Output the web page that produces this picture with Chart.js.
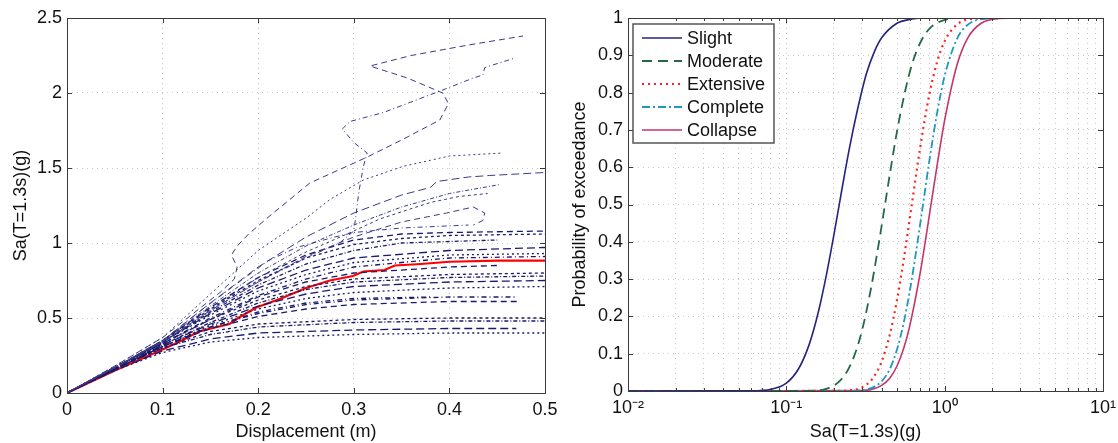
<!DOCTYPE html>
<html>
<head>
<meta charset="utf-8">
<script src="https://cdn.jsdelivr.net/npm/chart.js@4.4.0/dist/chart.umd.min.js"></script>
<style>
  body { margin: 0; background: #fff; overflow: hidden; }
  #wrap { position: relative; width: 1118px; height: 443px; }
  canvas { position: absolute; top: 0; }
</style>
</head>
<body>
<div id="wrap">
  <canvas id="ida" width="559" height="443" style="left:0"></canvas>
  <canvas id="frag" width="559" height="443" style="left:559px"></canvas>
</div>
<script>
// ---- left panel: IDA curves, [displacement (m), Sa (g)] ----
var ida01 = [[0,0],[0.05,0.18],[0.1,0.37],[0.13,0.52],[0.16,0.67],[0.175,0.76],[0.178,0.84],[0.172,0.92],[0.178,0.98],[0.19,1.06],[0.212,1.18],[0.254,1.4],[0.313,1.57],[0.351,1.69],[0.39,1.82],[0.399,1.93],[0.393,2.0],[0.356,2.1],[0.317,2.18],[0.36,2.25],[0.42,2.32],[0.477,2.38]];
var ida02 = [[0,0],[0.05,0.17],[0.1,0.34],[0.15,0.55],[0.2,0.74],[0.25,0.9],[0.285,1.0],[0.3,1.08],[0.302,1.17],[0.305,1.33],[0.31,1.51],[0.314,1.6],[0.3,1.67],[0.288,1.76],[0.296,1.81],[0.331,1.87],[0.393,2.02],[0.425,2.1],[0.435,2.12],[0.437,2.17],[0.467,2.23]];
var ida03 = [[0,0],[0.05,0.18],[0.1,0.37],[0.15,0.66],[0.2,0.95],[0.251,1.17],[0.275,1.29],[0.31,1.42],[0.351,1.51],[0.4,1.58],[0.456,1.6]];
var ida04 = [[0,0],[0.05,0.17],[0.1,0.35],[0.15,0.6],[0.2,0.84],[0.25,1.04],[0.3,1.2],[0.35,1.32],[0.38,1.37],[0.387,1.41],[0.42,1.44],[0.442,1.45],[0.5,1.47]];
var ida05 = [[0,0],[0.05,0.17],[0.1,0.35],[0.15,0.58],[0.2,0.8],[0.25,0.98],[0.3,1.12],[0.35,1.24],[0.4,1.33],[0.453,1.39]];
var ida06 = [[0,0],[0.05,0.17],[0.1,0.34],[0.15,0.56],[0.2,0.77],[0.25,0.94],[0.3,1.08],[0.327,1.16],[0.38,1.27],[0.41,1.31],[0.44,1.33]];
var ida07 = [[0,0],[0.05,0.17],[0.1,0.34],[0.15,0.55],[0.2,0.74],[0.25,0.91],[0.3,1.04],[0.35,1.14],[0.397,1.2],[0.425,1.24],[0.437,1.2],[0.435,1.15],[0.425,1.12]];
var ida08 = [[0,0],[0.05,0.17],[0.1,0.35],[0.14,0.55],[0.18,0.74],[0.21,0.88],[0.24,0.97],[0.28,1.04],[0.3,1.07],[0.35,1.1],[0.42,1.12]];
var ida09 = [[0,0],[0.05,0.15],[0.1,0.27],[0.15,0.34],[0.2,0.37],[0.3,0.39],[0.4,0.4],[0.5,0.4]];
var ida10 = [[0,0],[0.05,0.15],[0.1,0.28],[0.15,0.36],[0.2,0.4],[0.3,0.42],[0.4,0.43],[0.47,0.43]];
var ida11 = [[0,0],[0.05,0.16],[0.1,0.3],[0.15,0.39],[0.2,0.44],[0.3,0.47],[0.4,0.48],[0.5,0.48]];
var ida12 = [[0,0],[0.05,0.16],[0.1,0.3],[0.15,0.41],[0.2,0.46],[0.3,0.49],[0.4,0.5],[0.5,0.5]];
var ida13 = [[0,0],[0.05,0.16],[0.1,0.31],[0.15,0.43],[0.2,0.51],[0.25,0.56],[0.3,0.59],[0.4,0.61],[0.474,0.61]];
var ida14 = [[0,0],[0.05,0.16],[0.1,0.31],[0.15,0.44],[0.2,0.53],[0.25,0.59],[0.3,0.62],[0.4,0.64],[0.47,0.64]];
var ida15 = [[0,0],[0.05,0.16],[0.1,0.31],[0.15,0.45],[0.2,0.56],[0.25,0.63],[0.3,0.67],[0.4,0.7],[0.5,0.71]];
var ida16 = [[0,0],[0.05,0.16],[0.1,0.32],[0.15,0.46],[0.2,0.58],[0.25,0.66],[0.3,0.71],[0.4,0.74],[0.5,0.75]];
var ida17 = [[0,0],[0.05,0.16],[0.1,0.32],[0.15,0.47],[0.2,0.6],[0.25,0.69],[0.3,0.74],[0.4,0.77],[0.5,0.78]];
var ida18 = [[0,0],[0.05,0.17],[0.1,0.33],[0.15,0.49],[0.2,0.62],[0.25,0.71],[0.3,0.76],[0.4,0.79],[0.5,0.8]];
var ida19 = [[0,0],[0.05,0.17],[0.1,0.33],[0.15,0.49],[0.2,0.64],[0.25,0.74],[0.3,0.8],[0.4,0.84],[0.45,0.85]];
var ida20 = [[0,0],[0.05,0.17],[0.1,0.33],[0.15,0.5],[0.2,0.65],[0.25,0.76],[0.3,0.84],[0.4,0.9],[0.5,0.91]];
var ida21 = [[0,0],[0.05,0.17],[0.1,0.34],[0.15,0.52],[0.2,0.68],[0.25,0.79],[0.3,0.87],[0.4,0.92],[0.5,0.93]];
var ida22 = [[0,0],[0.05,0.17],[0.1,0.34],[0.15,0.53],[0.2,0.7],[0.25,0.82],[0.3,0.9],[0.4,0.95],[0.5,0.97]];
var ida23 = [[0,0],[0.05,0.17],[0.1,0.34],[0.15,0.54],[0.2,0.72],[0.25,0.86],[0.3,0.95],[0.35,1.0],[0.45,1.02]];
var ida24 = [[0,0],[0.05,0.17],[0.1,0.35],[0.15,0.56],[0.2,0.75],[0.25,0.9],[0.3,0.99],[0.35,1.03],[0.4,1.05],[0.5,1.06]];
var ida25 = [[0,0],[0.05,0.17],[0.1,0.35],[0.15,0.57],[0.2,0.77],[0.25,0.92],[0.3,1.02],[0.35,1.06],[0.4,1.07],[0.5,1.08]];
var ida26 = [[0,0],[0.05,0.16],[0.1,0.31],[0.15,0.44],[0.2,0.54],[0.25,0.6],[0.3,0.63],[0.38,0.64]];
var idaMedian = [[0,0],[0.05,0.15],[0.1,0.29],[0.12,0.35],[0.138,0.41],[0.157,0.44],[0.17,0.46],[0.179,0.5],[0.198,0.57],[0.224,0.63],[0.25,0.7],[0.275,0.75],[0.299,0.78],[0.31,0.81],[0.332,0.82],[0.343,0.85],[0.37,0.86],[0.4,0.875],[0.45,0.882],[0.5,0.883]];

var idaRecords = [ida01, ida02, ida03, ida04, ida05, ida06, ida07, ida08, ida09, ida10, ida11, ida12, ida13,
  ida14, ida15, ida16, ida17, ida18, ida19, ida20, ida21, ida22, ida23, ida24, ida25, ida26];

// ---- right panel: fragility curves, Sa (g) vs probability ----
var damageStates = ['Slight', 'Moderate', 'Extensive', 'Complete', 'Collapse'];
var slightSa = [0.01, 0.06, 0.08, 0.1, 0.12, 0.14, 0.16, 0.18, 0.2, 0.22, 0.25, 0.28, 0.32, 0.36, 0.4, 0.5, 0.6, 0.8, 10];
var slightP = [0, 0.0004, 0.0045, 0.021, 0.061, 0.127, 0.215, 0.316, 0.42, 0.52, 0.65, 0.75, 0.85, 0.91, 0.947, 0.986, 0.996, 1, 1];
var moderateSa = [0.01, 0.14, 0.18, 0.22, 0.26, 0.3, 0.34, 0.38, 0.42, 0.46, 0.5, 0.56, 0.62, 0.7, 0.8, 1.0, 1.3, 10];
var moderateP = [0, 0.0006, 0.0064, 0.029, 0.079, 0.161, 0.268, 0.385, 0.5, 0.605, 0.696, 0.8, 0.874, 0.933, 0.971, 0.995, 1, 1];
var extensiveSa = [0.01, 0.2, 0.25, 0.3, 0.35, 0.4, 0.45, 0.5, 0.55, 0.62, 0.7, 0.8, 0.9, 1.0, 1.2, 1.5, 2, 10];
var extensiveP = [0, 0.0001, 0.0017, 0.0096, 0.033, 0.079, 0.151, 0.244, 0.35, 0.5, 0.652, 0.795, 0.885, 0.938, 0.983, 0.998, 1, 1];
var completeSa = [0.01, 0.25, 0.3, 0.35, 0.4, 0.45, 0.5, 0.55, 0.6, 0.65, 0.73, 0.8, 0.9, 1.0, 1.2, 1.4, 1.8, 2.5, 10];
var completeP = [0, 0.0003, 0.002, 0.009, 0.026, 0.059, 0.111, 0.181, 0.264, 0.355, 0.5, 0.617, 0.75, 0.845, 0.945, 0.982, 0.998, 1, 1];
var collapseSa = [0.01, 0.3, 0.35, 0.4, 0.45, 0.5, 0.55, 0.6, 0.7, 0.82, 0.9, 1.0, 1.2, 1.4, 1.7, 2.2, 3, 10];
var collapseP = [0, 0.001, 0.005, 0.015, 0.034, 0.067, 0.113, 0.172, 0.316, 0.5, 0.61, 0.726, 0.876, 0.947, 0.986, 0.9986, 1, 1];

var logMajorTicks = [0.01, 0.1, 1, 10];
var logTickLabels = ['10\u207B\u00B2', '10\u207B\u00B9', '10\u2070', '10\u00B9'];

var FONT = "'Liberation Sans', Arial, Helvetica, sans-serif";
Chart.defaults.font.family = FONT;
Chart.defaults.font.size = 18;
Chart.defaults.color = '#111';

function toPts(arr) {
  return arr.map(function (p) { return {x: p[0], y: p[1]}; });
}
function zipPts(xs, ys) {
  return xs.map(function (x, i) { return {x: x, y: ys[i]}; });
}
// matlab style numbers: 1 not 1.0
function plainNum(v) {
  return String(Math.round(v * 100) / 100);
}
// keep the plot box where we put it, labels may hang over
function noPad(s) {
  s.paddingLeft = 0; s.paddingRight = 0; s.paddingTop = 0; s.paddingBottom = 0;
}

// MATLAB-like box with inward tick marks
var boxFrame = {
  id: 'boxFrame',
  afterDraw: function (chart) {
    var ctx = chart.ctx, a = chart.chartArea;
    var xs = chart.scales.x, ys = chart.scales.y;
    ctx.save();
    ctx.strokeStyle = '#3a3a3a';
    ctx.lineWidth = 1;
    ctx.strokeRect(Math.round(a.left) + 0.5, Math.round(a.top) + 0.5,
      Math.round(a.right - a.left), Math.round(a.bottom - a.top));
    ctx.beginPath();
    xs.ticks.forEach(function (t) {
      var px = Math.round(xs.getPixelForValue(t.value)) + 0.5;
      var len = (xs.type === 'logarithmic' && logMajorTicks.indexOf(t.value) < 0) ? 3 : 5;
      ctx.moveTo(px, a.bottom); ctx.lineTo(px, a.bottom - len);
      ctx.moveTo(px, a.top); ctx.lineTo(px, a.top + len);
    });
    ys.ticks.forEach(function (t) {
      var py = Math.round(ys.getPixelForValue(t.value)) + 0.5;
      ctx.moveTo(a.left, py); ctx.lineTo(a.left + 5, py);
      ctx.moveTo(a.right, py); ctx.lineTo(a.right - 5, py);
    });
    ctx.stroke();
    ctx.restore();
  }
};

// legend box inside the plot area, top left
var insideLegend = {
  id: 'insideLegend',
  afterDraw: function (chart) {
    var ctx = chart.ctx, a = chart.chartArea;
    var sets = chart.data.datasets;
    var x0 = a.left + 5, y0 = a.top + 6, w = 141, rowH = 23;
    var h = sets.length * rowH + 4;
    ctx.save();
    ctx.fillStyle = '#fff';
    ctx.fillRect(x0, y0, w, h);
    ctx.strokeStyle = '#555';
    ctx.lineWidth = 1.5;
    ctx.strokeRect(x0, y0, w, h);
    ctx.font = '18px ' + FONT;
    ctx.textBaseline = 'middle';
    sets.forEach(function (ds, i) {
      var cy = y0 + 14 + i * rowH;
      ctx.beginPath();
      ctx.setLineDash(ds.borderDash || []);
      ctx.strokeStyle = ds.borderColor;
      ctx.lineWidth = ds.borderWidth;
      ctx.moveTo(x0 + 9, cy);
      ctx.lineTo(x0 + 49, cy);
      ctx.stroke();
      ctx.setLineDash([]);
      ctx.fillStyle = '#111';
      ctx.fillText(ds.label, x0 + 54, cy + 1);
    });
    ctx.restore();
  }
};

var gridStyle = { color: '#c8c8c8', lineWidth: 1, drawTicks: false };
var borderStyle = { display: false, dash: [1, 4] };

// ---------- left chart ----------
var dashSet = [[6, 4], [5, 3, 1, 3], [2, 3], [8, 4], [4, 2, 1, 2], [3, 3]];
var idaSets = idaRecords.map(function (rec, i) {
  return {
    label: 'record ' + (i + 1),
    data: toPts(rec),
    showLine: true,
    borderColor: i < 8 ? '#3a3a86' : '#1a1a6c',
    borderWidth: i < 8 ? 1 : 1.3,
    borderDash: dashSet[i % dashSet.length],
    pointRadius: 0,
    tension: 0
  };
});
idaSets.push({
  label: 'median',
  data: toPts(idaMedian),
  showLine: true,
  borderColor: '#ff0000',
  borderWidth: 2.2,
  pointRadius: 0,
  tension: 0
});

new Chart(document.getElementById('ida').getContext('2d'), {
  type: 'scatter',
  data: { datasets: idaSets },
  options: {
    responsive: false,
    animation: false,
    devicePixelRatio: 1,
    events: [],
    layout: { padding: { top: 18, right: 14, left: 0, bottom: 0 } },
    plugins: { legend: { display: false }, tooltip: { enabled: false } },
    scales: {
      x: {
        type: 'linear', min: 0, max: 0.5,
        ticks: { stepSize: 0.1, padding: 6, maxRotation: 0, callback: plainNum },
        grid: gridStyle, border: borderStyle,
        title: { display: true, text: 'Displacement (m)', padding: { top: 0, bottom: 0 } },
        afterFit: function (s) { s.height = 50; noPad(s); }
      },
      y: {
        type: 'linear', min: 0, max: 2.5,
        ticks: { stepSize: 0.5, padding: 5, callback: plainNum },
        grid: gridStyle, border: borderStyle,
        title: { display: true, text: 'Sa(T=1.3s)(g)', padding: { top: 10, bottom: 0 } },
        afterFit: function (s) { s.width = 67; noPad(s); }
      }
    }
  },
  plugins: [boxFrame]
});

// ---------- right chart ----------
var logTickValues = [];
logMajorTicks.forEach(function (m, i) {
  if (i === logMajorTicks.length - 1) { logTickValues.push(m); return; }
  for (var k = 1; k <= 9; k++) logTickValues.push(+(k * m).toPrecision(3));
});

var fragSets = [
  { label: damageStates[0], data: zipPts(slightSa, slightP), borderColor: '#24247e', borderWidth: 1.6 },
  { label: damageStates[1], data: zipPts(moderateSa, moderateP), borderColor: '#226a48', borderWidth: 1.8, borderDash: [10, 6] },
  { label: damageStates[2], data: zipPts(extensiveSa, extensiveP), borderColor: '#ff2222', borderWidth: 2.2, borderDash: [2, 4] },
  { label: damageStates[3], data: zipPts(completeSa, completeP), borderColor: '#1f97bf', borderWidth: 1.8, borderDash: [8, 3, 2, 3] },
  { label: damageStates[4], data: zipPts(collapseSa, collapseP), borderColor: '#c4356c', borderWidth: 1.6 }
].map(function (ds) {
  ds.showLine = true;
  ds.pointRadius = 0;
  ds.cubicInterpolationMode = 'monotone';
  return ds;
});

new Chart(document.getElementById('frag').getContext('2d'), {
  type: 'scatter',
  data: { datasets: fragSets },
  options: {
    responsive: false,
    animation: false,
    devicePixelRatio: 1,
    events: [],
    layout: { padding: { top: 18, right: 15, left: 0, bottom: 0 } },
    plugins: { legend: { display: false }, tooltip: { enabled: false } },
    scales: {
      x: {
        type: 'logarithmic', min: 0.01, max: 10,
        afterBuildTicks: function (scale) {
          scale.ticks = logTickValues.map(function (v) { return { value: v }; });
        },
        ticks: {
          autoSkip: false, maxRotation: 0, padding: 6,
          callback: function (value) {
            var i = logMajorTicks.indexOf(value);
            return i >= 0 ? logTickLabels[i] : '';
          }
        },
        grid: gridStyle, border: borderStyle,
        title: { display: true, text: 'Sa(T=1.3s)(g)', padding: { top: 0, bottom: 0 } },
        afterFit: function (s) { s.height = 52; noPad(s); }
      },
      y: {
        type: 'linear', min: 0, max: 1,
        ticks: { stepSize: 0.1, padding: 5, callback: plainNum },
        grid: gridStyle, border: borderStyle,
        title: { display: true, text: 'Probability of exceedance', padding: { top: 10, bottom: 0 } },
        afterFit: function (s) { s.width = 69; noPad(s); }
      }
    }
  },
  plugins: [boxFrame, insideLegend]
});
</script>
</body>
</html>
